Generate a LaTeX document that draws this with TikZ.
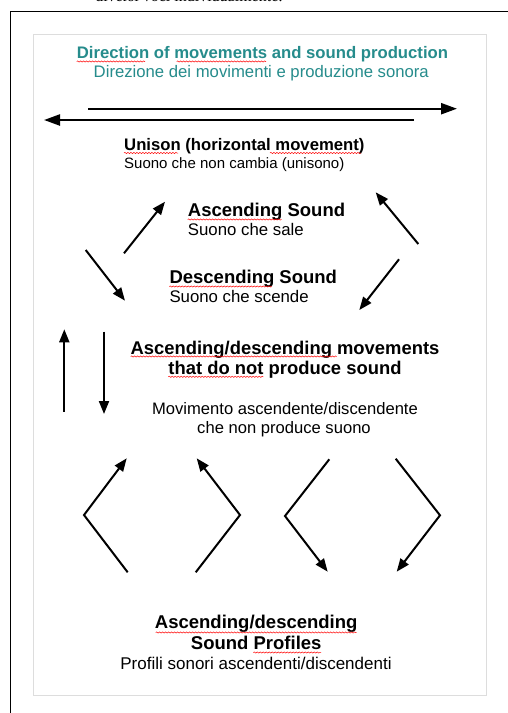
\documentclass[tikz,border=0pt]{standalone}
\usepackage{fontspec}
\setmainfont{Liberation Sans}
\newfontfamily\seriffont{Liberation Serif}
\usetikzlibrary{arrows.meta,decorations.pathmorphing}
\definecolor{tealtxt}{RGB}{38,140,140}
\definecolor{framegray}{RGB}{221,221,221}
\begin{document}
\begin{tikzpicture}[x=1pt,y=-1pt,
  arr/.style={line width=2pt,-{Triangle[length=13pt,width=10pt]}},
  harr/.style={line width=2.3pt,-{Triangle[length=16pt,width=11pt]}},
  zig/.style={line width=2pt,line join=miter},
  lbl/.style={inner sep=0pt,anchor=base west},
  clbl/.style={inner sep=0pt,anchor=base},
  spell/.style={red,line width=0.5pt,decorate,decoration={snake,amplitude=0.6pt,segment length=3pt}}]
\useasboundingbox (0,0) rectangle (508,713);
\fill[white] (0,0) rectangle (508,713);
% clipped text from the page above
\begin{scope}
\clip (0,0) rectangle (508,713);
\node[inner sep=0pt,anchor=base east,font=\seriffont\fontsize{16}{18}\selectfont] (toptext) at (283,1.2) {diversi voci individualmente:};
\end{scope}
% frames
\draw[black,line width=1pt] (10.5,713) -- (10.5,11.5) -- (508,11.5);
\draw[framegray,line width=1.2pt] (33.5,34.5) rectangle (486.5,695.5);
% title
\node[clbl,text=tealtxt,font=\fontsize{16.7}{18}\selectfont\bfseries] (title) at (262.5,58.3) {Direction of movements and sound production};
\node[clbl,text=tealtxt,font=\fontsize{16.7}{18}\selectfont] (subtitle) at (261.3,77.3) {Direzione dei movimenti e produzione sonora};
\draw[spell] (76.7,61.5) -- (145,61.5);
\draw[spell] (176.7,61.5) -- (266,61.5);
% unison arrows
\coordinate (r1) at (88,108.7);
\coordinate (r2) at (457,108.7);
\coordinate (l1) at (414,120);
\coordinate (l2) at (44,120);
\draw[harr] (r1) -- (r2);
\draw[harr] (l1) -- (l2);
\node[lbl,font=\fontsize{16.7}{18}\selectfont\bfseries] (unison) at (124,150.7) {Unison (horizontal movement)};
\node[lbl,font=\fontsize{15}{17}\selectfont] (unisonit) at (124,168.3) {Suono che non cambia (unisono)};
\draw[spell] (124,153) -- (178,153);
\draw[spell] (270,153) -- (361,153);
% ascending / descending
\node[lbl,font=\fontsize{18.5}{20}\selectfont\bfseries] (asc) at (187.7,216.7) {Ascending Sound};
\node[lbl,font=\fontsize{16.8}{19}\selectfont] (ascit) at (187.7,235.7) {Suono che sale};
\node[lbl,font=\fontsize{18.5}{20}\selectfont\bfseries] (desc) at (169.3,283.3) {Descending Sound};
\node[lbl,font=\fontsize{16.8}{19}\selectfont] (descit) at (169.3,302.7) {Suono che scende};
\draw[spell] (187.7,219.5) -- (281.7,219.5);
\draw[spell] (169.3,286.5) -- (271.7,286.5);
\coordinate (a1s) at (124,253.3);
\coordinate (a1e) at (165,201.7);
\coordinate (d1s) at (85.7,250);
\coordinate (d1e) at (125,300.7);
\coordinate (a2s) at (418.3,244);
\coordinate (a2e) at (375.7,192.3);
\coordinate (d2s) at (399,259.3);
\coordinate (d2e) at (359.3,310);
\draw[arr] (a1s) -- (a1e);
\draw[arr] (d1s) -- (d1e);
\draw[arr] (a2s) -- (a2e);
\draw[arr] (d2s) -- (d2e);
% vertical movements
\coordinate (us) at (64.3,411.7);
\coordinate (ue) at (64.3,329.3);
\coordinate (ds) at (104,331.7);
\coordinate (de) at (104,414);
\draw[arr] (us) -- (ue);
\draw[arr] (ds) -- (de);
\node[clbl,font=\fontsize{18.4}{20}\selectfont\bfseries] (mov1) at (285,354.3) {Ascending/descending movements};
\node[clbl,font=\fontsize{18.4}{20}\selectfont\bfseries] (mov2) at (285,374.3) {that do not produce sound};
\node[clbl,font=\fontsize{16.6}{19}\selectfont] (movit1) at (285,414.3) {Movimento ascendente/discendente};
\node[clbl,font=\fontsize{16.6}{19}\selectfont] (movit2) at (284,433.3) {che non produce suono};
\draw[spell] (130.7,356.5) -- (336.7,356.5);
\draw[spell] (168.3,376.8) -- (263.3,376.8);
% profiles
\coordinate (p1a) at (127.7,572.3);
\coordinate (p1b) at (84,515);
\coordinate (p1c) at (126.7,458.3);
\draw[zig,-{Triangle[length=13pt,width=10pt]}] (p1a) -- (p1b) -- (p1c);
\coordinate (p2a) at (195.7,572.3);
\coordinate (p2b) at (240,515);
\coordinate (p2c) at (196.7,458.3);
\draw[zig,-{Triangle[length=13pt,width=10pt]}] (p2a) -- (p2b) -- (p2c);
\coordinate (p3a) at (329.3,459.3);
\coordinate (p3b) at (285,516);
\coordinate (p3c) at (327.7,571.7);
\draw[zig,-{Triangle[length=13pt,width=10pt]}] (p3a) -- (p3b) -- (p3c);
\coordinate (p4a) at (395.7,458.7);
\coordinate (p4b) at (440,515.3);
\coordinate (p4c) at (396.7,571.7);
\draw[zig,-{Triangle[length=13pt,width=10pt]}] (p4a) -- (p4b) -- (p4c);
\node[clbl,font=\fontsize{18.5}{20}\selectfont\bfseries] (prof1) at (256.2,628.3) {Ascending/descending};
\node[clbl,font=\fontsize{18.5}{20}\selectfont\bfseries] (prof2) at (256.2,649) {Sound Profiles};
\node[clbl,font=\fontsize{17}{19}\selectfont] (profit) at (256,669.3) {Profili sonori ascendenti/discendenti};
\draw[spell] (155.7,632.5) -- (356.7,632.5);
\draw[spell] (253.3,652.5) -- (321,652.5);
\end{tikzpicture}
\end{document}
